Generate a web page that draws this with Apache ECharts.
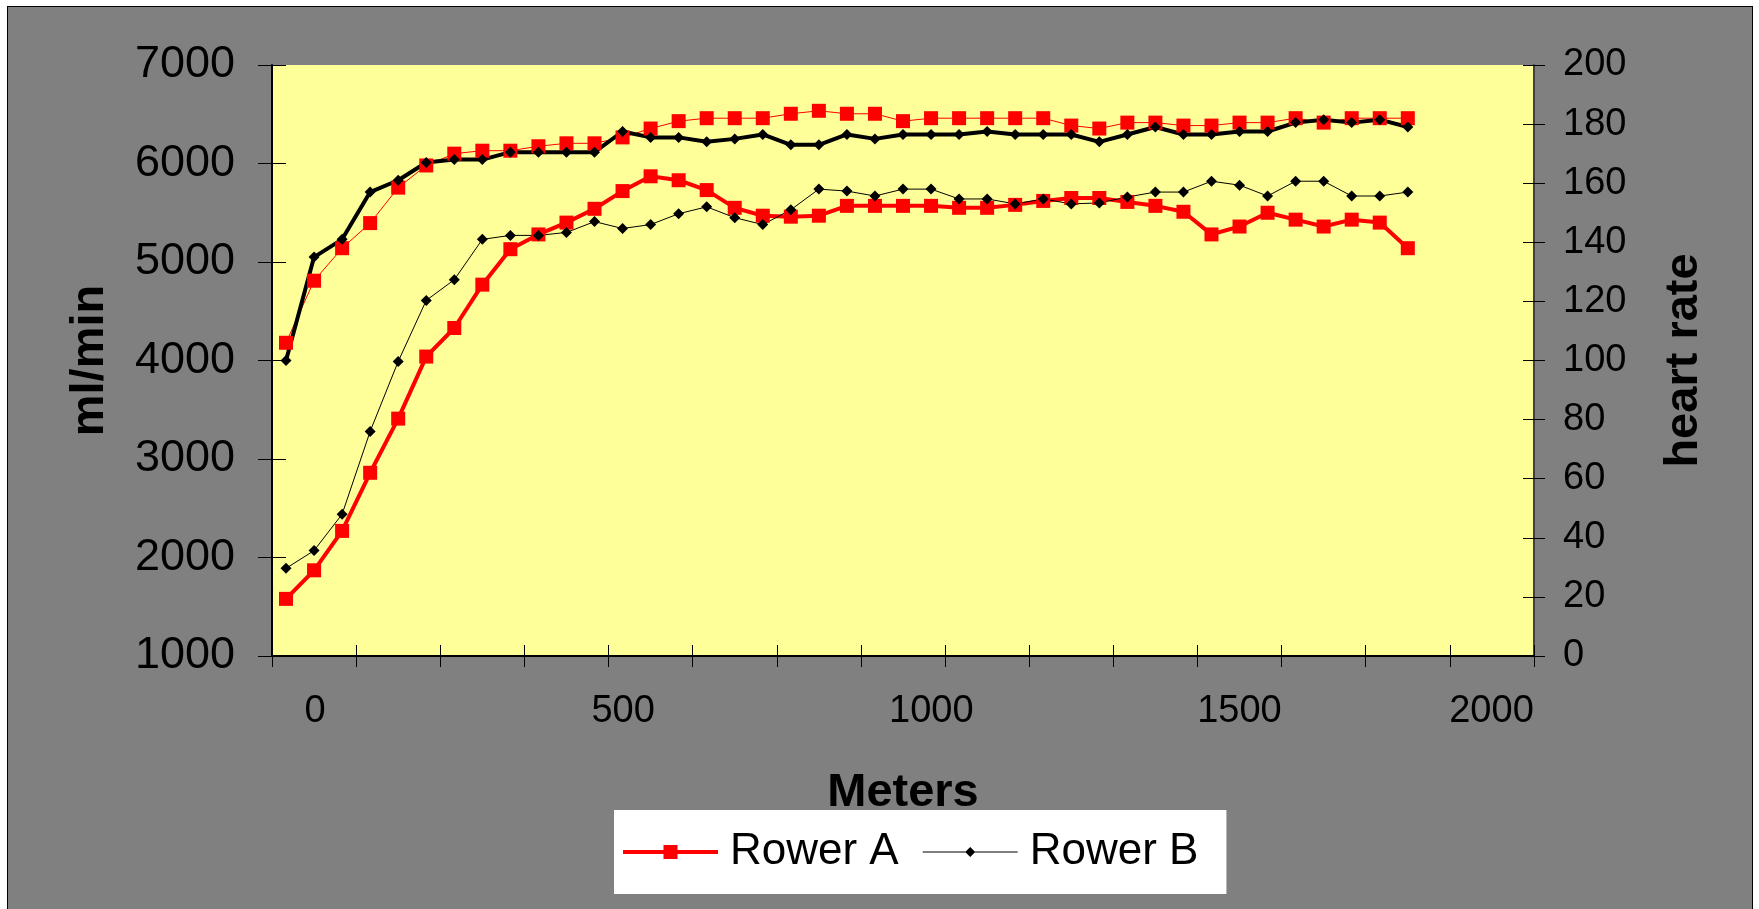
<!DOCTYPE html>
<html>
<head>
<meta charset="utf-8">
<title>Rower A vs Rower B</title>
<script src="https://cdn.jsdelivr.net/npm/echarts@6/dist/echarts.min.js"></script>
<style>
  html, body { margin: 0; padding: 0; background: #ffffff; overflow: hidden; }
  #frame {
    position: absolute; left: 7px; top: 6px; width: 1744px; height: 920px;
    background: #808080; border: 1px solid #000000;
  }
  #chart { position: absolute; left: 0; top: 0; width: 1759px; height: 909px; }
</style>
</head>
<body>
<div id="frame"></div>
<div id="chart"></div>
<script>
// Sample slots along the piece (41 measured, 4 trailing empty slots on the axis)
const samples = [1, 2, 3, 4, 5, 6, 7, 8, 9, 10, 11, 12, 13, 14, 15,
                 16, 17, 18, 19, 20, 21, 22, 23, 24, 25, 26, 27, 28, 29, 30,
                 31, 32, 33, 34, 35, 36, 37, 38, 39, 40, 41, 42, 43, 44, 45];

// Oxygen uptake, ml/min (left axis)
const rowerA_vo2 = [1580, 1870, 2270, 2860, 3410, 4040, 4330, 4770, 5130, 5280,
                    5400, 5540, 5720, 5870, 5830, 5730, 5550, 5470, 5460, 5470,
                    5570, 5570, 5570, 5570, 5550, 5550, 5580, 5620, 5650, 5650,
                    5610, 5570, 5510, 5280, 5360, 5500, 5430, 5360, 5430, 5400, 5140];
const rowerB_vo2 = [1890, 2070, 2440, 3280, 3990, 4610, 4820, 5230, 5270, 5270,
                    5300, 5410, 5340, 5380, 5490, 5560, 5450, 5380, 5530, 5740,
                    5720, 5670, 5740, 5740, 5640, 5640, 5590, 5640, 5590, 5600,
                    5660, 5710, 5710, 5820, 5780, 5670, 5820, 5820, 5670, 5670, 5710];

// Heart rate, beats/min (right axis)
const rowerA_hr = [106, 127, 138, 146.5, 158.5, 166, 170, 171, 171, 172.5,
                   173.5, 173.5, 175.5, 178.5, 181, 182, 182, 182, 183.5, 184.5,
                   183.5, 183.5, 181, 182, 182, 182, 182, 182, 179.5, 178.5,
                   180.5, 180.5, 179.5, 179.5, 180.5, 180.5, 182, 180.5, 182, 182, 182];
const rowerB_hr = [100, 135, 141, 157, 161, 167, 168, 168, 170.5, 170.5,
                   170.5, 170.5, 177.5, 175.5, 175.5, 174, 175, 176.5, 173, 173,
                   176.5, 175, 176.5, 176.5, 176.5, 177.5, 176.5, 176.5, 176.5, 174,
                   176.5, 179, 176.5, 176.5, 177.5, 177.5, 180.5, 181.5, 180.5, 181.5, 179];

// Axis scales and tick labels
const ML_MIN = 1000, ML_MAX = 7000, ML_STEP = 1000;
const HR_MIN = 0, HR_MAX = 200, HR_STEP = 20;
const distanceTicks = [0, 500, 1000, 1500, 2000];
const DIST_MIN = -69.8, DIST_MAX = 1977.9;   // metres spanned by the plot width

const FONT = 'Liberation Sans, Arial, sans-serif';
const RED = '#ff0000';
const BLACK = '#000000';

// The last distance label sits against the right edge of the plot
const distancePositions = distanceTicks.map(v => Math.min(v, DIST_MAX));

const chart = echarts.init(document.getElementById('chart'), null, { renderer: 'canvas' });

const plainNumber = v => String(v);

chart.setOption({
  animation: false,
  backgroundColor: 'transparent',
  textStyle: { fontFamily: FONT },
  grid: {
    left: 272, top: 65, right: 225, bottom: 253,
    show: true, backgroundColor: '#ffff99', borderWidth: 0,
    containLabel: false, outerBoundsMode: 'none'
  },
  legend: {
    left: 614, top: 810,
    padding: [20, 28, 20, 9],
    itemGap: 24, itemWidth: 95, itemHeight: 14,
    backgroundColor: '#ffffff', borderWidth: 0,
    selectedMode: false,
    itemStyle: { borderWidth: 0 },
    textStyle: { fontSize: 44, color: BLACK, fontFamily: FONT, padding: [0, 0, 0, 7] },
    data: [
      { name: 'Rower A', icon: 'path://M0,5H95V9H0Z M40.5,0H54.5V14H40.5Z' },
      { name: 'Rower B', icon: 'path://M0,6.4H95V7.6H0Z M47.5,2L52.5,7L47.5,12L42.5,7Z' }
    ]
  },
  xAxis: [
    {
      type: 'category', data: samples, boundaryGap: true, position: 'bottom',
      axisLine: { show: true, onZero: false, lineStyle: { color: BLACK, width: 2 } },
      axisTick: { show: true, interval: 2, length: 11, inside: false, lineStyle: { color: BLACK, width: 1 } },
      axisLabel: { show: false },
      splitLine: { show: false }
    },
    {
      type: 'category', data: samples, boundaryGap: true, position: 'bottom',
      axisLine: { show: false, onZero: false },
      axisTick: { show: true, interval: 2, length: 11, inside: true, lineStyle: { color: BLACK, width: 1 } },
      axisLabel: { show: false },
      splitLine: { show: false }
    },
    {
      type: 'value', min: DIST_MIN, max: DIST_MAX, position: 'bottom',
      axisLine: { show: false, onZero: false },
      axisTick: { show: false },
      splitLine: { show: false },
      axisLabel: {
        show: true, customValues: distancePositions,
        fontSize: 38, color: BLACK, margin: 37, fontFamily: FONT,
        formatter: function (v) {
          const i = distancePositions.indexOf(v);
          const text = String(i >= 0 ? distanceTicks[i] : v);
          return v >= DIST_MAX ? '{edge|' + text + '}' : text;
        },
        rich: {
          edge: { fontSize: 38, color: BLACK, fontFamily: FONT, padding: [0, 85, 0, 0] }
        }
      },
      name: 'Meters', nameLocation: 'middle', nameGap: 114,
      nameTextStyle: { fontSize: 47, fontWeight: 'bold', color: BLACK, fontFamily: FONT }
    }
  ],
  yAxis: [
    {
      type: 'value', position: 'left', min: ML_MIN, max: ML_MAX, interval: ML_STEP,
      splitLine: { show: false },
      axisLine: { show: true, onZero: false, lineStyle: { color: BLACK, width: 2 } },
      axisTick: { show: true, length: 14, inside: false, lineStyle: { color: BLACK, width: 1 } },
      axisLabel: { fontSize: 45, color: BLACK, margin: 37, fontFamily: FONT, formatter: plainNumber },
      name: 'ml/min', nameLocation: 'middle', nameRotate: 90, nameGap: 158,
      nameTextStyle: { fontSize: 47, fontWeight: 'bold', color: BLACK, fontFamily: FONT }
    },
    {
      type: 'value', position: 'right', min: HR_MIN, max: HR_MAX, interval: HR_STEP,
      splitLine: { show: false },
      axisLine: { show: true, onZero: false, lineStyle: { color: '#404040', width: 2 } },
      axisTick: { show: true, length: 11, inside: false, lineStyle: { color: BLACK, width: 1 } },
      axisLabel: { fontSize: 38, color: BLACK, margin: 29, fontFamily: FONT, formatter: plainNumber },
      name: 'heart rate', nameLocation: 'middle', nameRotate: 90, nameGap: 127,
      nameTextStyle: { fontSize: 47, fontWeight: 'bold', color: BLACK, fontFamily: FONT }
    },
    {
      type: 'value', position: 'left', min: ML_MIN, max: ML_MAX, interval: ML_STEP,
      axisLine: { show: false, onZero: false }, splitLine: { show: false }, axisLabel: { show: false },
      axisTick: { show: true, length: 14, inside: true, lineStyle: { color: BLACK, width: 1 } }
    },
    {
      type: 'value', position: 'right', min: HR_MIN, max: HR_MAX, interval: HR_STEP,
      axisLine: { show: false, onZero: false }, splitLine: { show: false }, axisLabel: { show: false },
      axisTick: { show: true, length: 11, inside: true, lineStyle: { color: BLACK, width: 1 } }
    }
  ],
  series: [
    {
      name: 'Rower A', type: 'line', xAxisIndex: 0, yAxisIndex: 0, data: rowerA_vo2,
      symbol: 'rect', symbolSize: 14, showAllSymbol: true,
      lineStyle: { color: RED, width: 4 },
      itemStyle: { color: RED, borderWidth: 0 },
      emphasis: { disabled: true }
    },
    {
      name: 'Rower A', type: 'line', xAxisIndex: 0, yAxisIndex: 1, data: rowerA_hr,
      symbol: 'rect', symbolSize: 14, showAllSymbol: true,
      lineStyle: { color: RED, width: 1 },
      itemStyle: { color: RED, borderWidth: 0 },
      emphasis: { disabled: true }
    },
    {
      name: 'Rower B', type: 'line', xAxisIndex: 0, yAxisIndex: 0, data: rowerB_vo2,
      symbol: 'diamond', symbolSize: 11, showAllSymbol: true,
      lineStyle: { color: BLACK, width: 1 },
      itemStyle: { color: BLACK, borderWidth: 0 },
      emphasis: { disabled: true }
    },
    {
      name: 'Rower B', type: 'line', xAxisIndex: 0, yAxisIndex: 1, data: rowerB_hr,
      symbol: 'diamond', symbolSize: 11, showAllSymbol: true,
      lineStyle: { color: BLACK, width: 4 },
      itemStyle: { color: BLACK, borderWidth: 0 },
      emphasis: { disabled: true }
    }
  ]
});
</script>
</body>
</html>
